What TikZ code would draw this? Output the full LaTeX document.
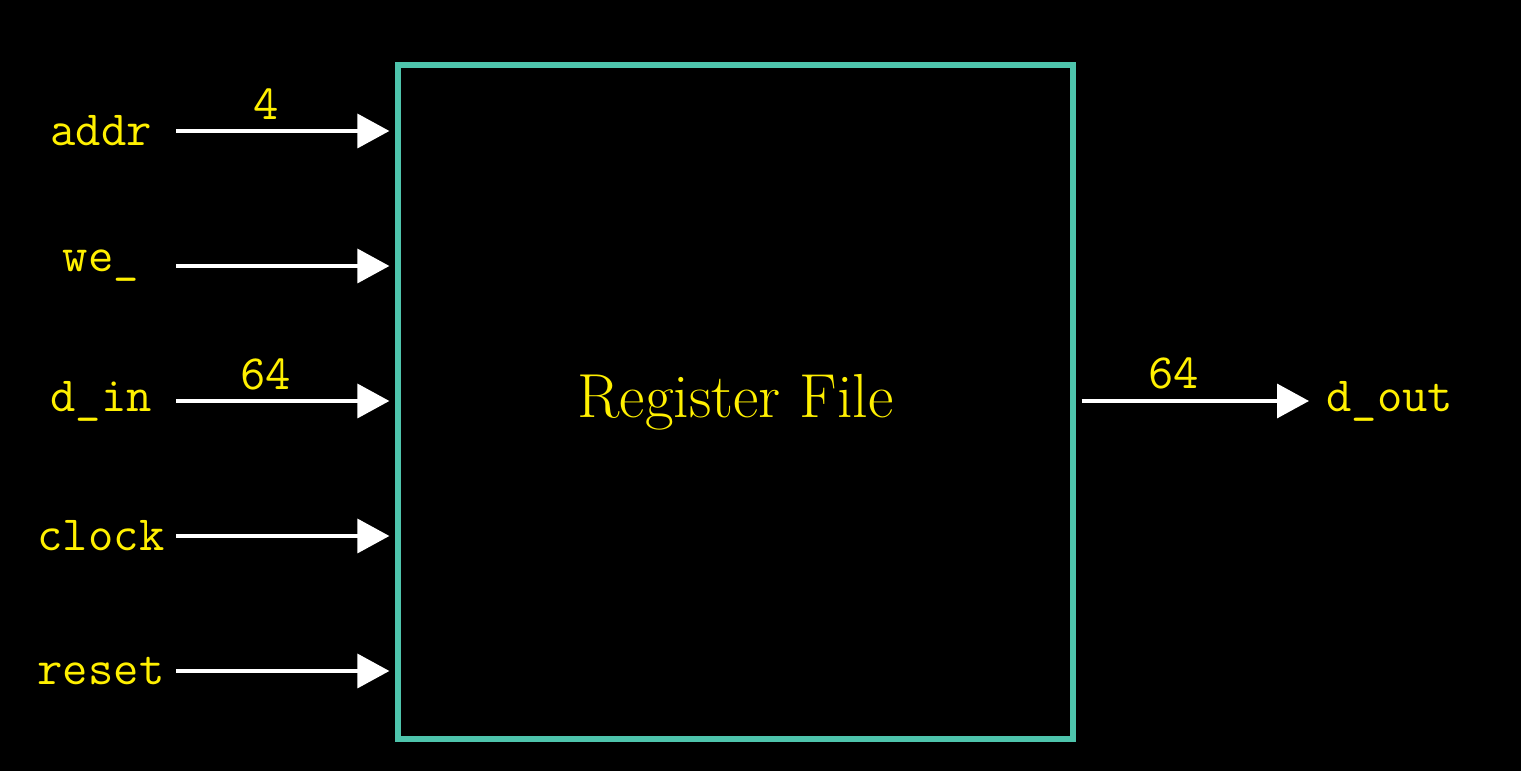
\documentclass[tikz,border=0pt]{standalone}
\usepackage{fontspec}
\usetikzlibrary{arrows.meta}
\definecolor{regteal}{RGB}{78,196,172}
\definecolor{sigyellow}{RGB}{255,240,0}

\begin{document}
\begin{tikzpicture}[
  sig/.style={text=sigyellow, font=\ttfamily\fontsize{14}{16}\selectfont},
  buswidth/.style={text=sigyellow, font=\ttfamily\fontsize{14}{16}\selectfont, above, inner sep=3pt, pos=0.41},
  wire/.style={draw=white, line width=1pt, -{Triangle[length=3.2mm,width=3.4mm]}},
  regbox/.style={rectangle, draw=regteal, line width=1.5pt, minimum width=6.75cm, minimum height=6.74cm,
    text=sigyellow, font=\fontsize{17.7}{21}\selectfont}
]
  \fill[black] (0,0) rectangle (15.21,7.71);
  \node[regbox] (rf) at (7.355,3.69) {Register File};

  % inputs
  \foreach \name/\y/\lab in {addr/6.40/addr, we/5.05/we\_, din/3.70/d\_in, clk/2.35/clock, rst/1.00/reset} {
    \node[sig] (\name) at (1.01,\y) {\lab};
    \coordinate (\name-in) at (1.76,\y);
    \draw[wire, shorten >=0.6mm] (\name-in) -- (rf.west |- \name-in);
  }
  \path (addr-in) -- (rf.west |- addr-in) node[buswidth] (w-addr) {4};
  \path (din-in) -- (rf.west |- din-in) node[buswidth] (w-din) {64};

  % output
  \node[sig, anchor=west] (dout) at (13.14,3.70) {d\_out};
  \draw[wire, shorten <=0.6mm, shorten >=0.5mm] (rf.east |- dout.west) -- (dout.west)
    node[buswidth] (w-dout) {64};
\end{tikzpicture}
\end{document}
